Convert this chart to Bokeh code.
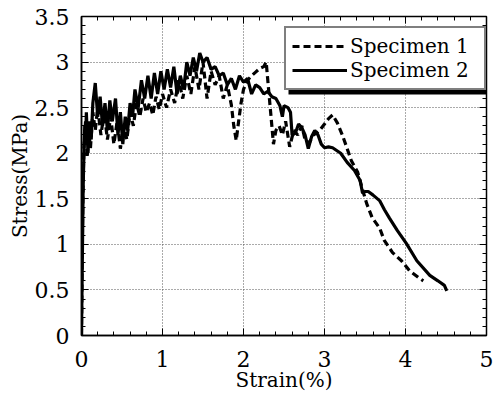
from bokeh.plotting import figure
from bokeh.models import Range1d, LinearAxis, SingleIntervalTicker, Legend, LegendItem, BoxAnnotation
from bokeh.embed import file_html
from bokeh.resources import INLINE

# Specimen 1 (dashed)
s1_strain = [0.00, 0.01, 0.02, 0.03, 0.05, 0.07, 0.09, 0.11, 0.14, 0.17, 0.20, 0.24, 0.28, 0.32, 0.36,
             0.40, 0.44, 0.48, 0.52, 0.56, 0.60, 0.64, 0.68, 0.72, 0.76, 0.80, 0.84, 0.88, 0.92, 0.96,
             1.00, 1.05, 1.10, 1.15, 1.20, 1.25, 1.30, 1.35, 1.40, 1.45, 1.50, 1.55, 1.60, 1.65, 1.70,
             1.75, 1.80, 1.85, 1.88, 1.91, 1.94, 1.97, 2.00, 2.05, 2.10, 2.15, 2.20, 2.25, 2.28, 2.31,
             2.34, 2.37, 2.40, 2.44, 2.48, 2.52, 2.57, 2.62, 2.67, 2.72, 2.76, 2.81, 2.86, 2.90, 2.94,
             3.00, 3.05, 3.10, 3.16, 3.22, 3.28, 3.33, 3.41, 3.47, 3.52, 3.59, 3.68, 3.74, 3.84, 3.95,
             4.05, 4.17, 4.22]
s1_stress = [0.00, 1.00, 1.70, 2.05, 2.35, 1.95, 2.25, 2.05, 2.45, 2.25, 2.50, 2.20, 2.45, 2.15, 2.40,
             2.10, 2.35, 2.05, 2.30, 2.15, 2.45, 2.30, 2.55, 2.40, 2.60, 2.45, 2.55, 2.42, 2.62, 2.48,
             2.65, 2.50, 2.70, 2.55, 2.80, 2.60, 2.85, 2.65, 2.95, 2.70, 3.00, 2.60, 2.90, 2.75, 2.85,
             2.60, 2.75, 2.53, 2.30, 2.14, 2.35, 2.55, 2.70, 2.80, 2.85, 2.89, 2.93, 2.95, 3.00, 2.70,
             2.40, 2.10, 2.25, 2.30, 2.20, 2.35, 2.07, 2.25, 2.20, 2.30, 2.15, 2.11, 2.20, 2.22, 2.25,
             2.32, 2.38, 2.42, 2.33, 2.20, 2.05, 1.92, 1.79, 1.60, 1.45, 1.29, 1.18, 1.04, 0.91, 0.82,
             0.71, 0.63, 0.60]

# Specimen 2 (solid)
s2_strain = [0.00, 0.01, 0.02, 0.03, 0.04, 0.05, 0.06, 0.08, 0.10, 0.12, 0.14, 0.17, 0.20, 0.23, 0.26,
             0.29, 0.32, 0.35, 0.38, 0.42, 0.45, 0.48, 0.51, 0.54, 0.57, 0.60, 0.63, 0.66, 0.70, 0.74,
             0.78, 0.82, 0.86, 0.90, 0.94, 0.98, 1.02, 1.06, 1.10, 1.14, 1.18, 1.22, 1.26, 1.30, 1.34,
             1.38, 1.42, 1.46, 1.50, 1.55, 1.60, 1.65, 1.70, 1.75, 1.80, 1.85, 1.90, 1.95, 2.00, 2.05,
             2.10, 2.15, 2.20, 2.25, 2.30, 2.35, 2.40, 2.45, 2.48, 2.50, 2.55, 2.58, 2.60, 2.64, 2.68,
             2.72, 2.76, 2.80, 2.84, 2.88, 2.92, 2.96, 3.00, 3.05, 3.10, 3.15, 3.20, 3.28, 3.37, 3.44,
             3.47, 3.50, 3.54, 3.60, 3.68, 3.74, 3.80, 3.90, 4.01, 4.14, 4.30, 4.40, 4.48, 4.51]
s2_stress = [0.00, 0.80, 1.60, 2.00, 2.30, 2.10, 2.45, 2.00, 2.35, 2.15, 2.55, 2.77, 2.40, 2.62, 2.30,
             2.55, 2.25, 2.58, 2.35, 2.60, 2.20, 2.45, 2.10, 2.40, 2.25, 2.55, 2.40, 2.70, 2.50, 2.80,
             2.60, 2.85, 2.60, 2.88, 2.65, 2.90, 2.70, 2.92, 2.72, 2.95, 2.65, 2.85, 2.70, 3.00, 2.85,
             3.05, 2.90, 3.10, 3.00, 3.05, 2.92, 2.95, 2.85, 2.88, 2.75, 2.82, 2.70, 2.85, 2.78, 2.82,
             2.65, 2.75, 2.72, 2.65, 2.68, 2.62, 2.60, 2.52, 2.40, 2.52, 2.50, 2.45, 2.20, 2.22, 2.32,
             2.28, 2.20, 2.05, 2.18, 2.25, 2.20, 2.10, 2.06, 2.07, 2.06, 2.03, 2.00, 1.90, 1.81, 1.70,
             1.56, 1.58, 1.58, 1.54, 1.48, 1.38, 1.29, 1.15, 1.01, 0.82, 0.66, 0.60, 0.55, 0.49]

x_ticks = [0, 1, 2, 3, 4, 5]
y_ticks = [0, 0.5, 1, 1.5, 2, 2.5, 3, 3.5]
y_tick_labels = ["0", "0.5", "1", "1.5", "2", "2.5", "3", "3.5"]
series_names = ["Specimen 1", "Specimen 2"]

FONT = "DejaVu Serif"

p = figure(width=493, height=397, output_backend="svg", toolbar_location=None,
           x_range=Range1d(0, 5), y_range=Range1d(0, 3.5),
           min_border_left=81, min_border_right=7, min_border_top=16, min_border_bottom=62,
           x_axis_label="Strain(%)", y_axis_label="Stress(MPa)")
p.background_fill_color = "white"
p.outline_line_color = "black"
p.outline_line_width = 1.5

p.xaxis.ticker = SingleIntervalTicker(interval=1, num_minor_ticks=5)
p.yaxis.ticker = SingleIntervalTicker(interval=0.5, num_minor_ticks=5)
p.yaxis.major_label_overrides = {v: l for v, l in zip(y_ticks, y_tick_labels)}

for ax in [p.xaxis[0], p.yaxis[0]]:
    ax.major_tick_in = 7
    ax.major_tick_out = 0
    ax.minor_tick_in = 4
    ax.minor_tick_out = 0
    ax.axis_line_color = "black"
    ax.axis_line_width = 1.5
    ax.major_tick_line_color = "black"
    ax.minor_tick_line_color = "black"
    ax.major_label_text_font = FONT
    ax.major_label_text_font_size = "22px"
    ax.major_label_text_color = "black"
    ax.axis_label_text_font = FONT
    ax.axis_label_text_font_size = "20px"
    ax.axis_label_text_font_style = "normal"
    ax.axis_label_text_color = "black"
p.xaxis.major_label_standoff = 15
p.xaxis.axis_label_standoff = -2
p.yaxis.major_label_standoff = 12
p.yaxis.axis_label_standoff = 0

blank_x = {v: "" for v in x_ticks}
blank_y = {v: "" for v in y_ticks}
top_ax = LinearAxis(ticker=SingleIntervalTicker(interval=1, num_minor_ticks=5),
                    major_label_overrides=blank_x, major_label_text_font_size="1px",
                    major_label_standoff=0, major_tick_in=7, major_tick_out=0,
                    minor_tick_in=4, minor_tick_out=0, axis_line_color="black")
right_ax = LinearAxis(ticker=SingleIntervalTicker(interval=0.5, num_minor_ticks=5),
                      major_label_overrides=blank_y, major_label_text_font_size="1px",
                      major_label_standoff=0, major_tick_in=7, major_tick_out=0,
                      minor_tick_in=4, minor_tick_out=0, axis_line_color="black")
p.add_layout(top_ax, "above")
p.add_layout(right_ax, "right")

p.xgrid.ticker = SingleIntervalTicker(interval=1)
p.ygrid.ticker = SingleIntervalTicker(interval=0.5)
for g in [p.xgrid[0], p.ygrid[0]]:
    g.grid_line_color = "#555555"
    g.grid_line_dash = "1 2"
    g.grid_line_width = 1

r1 = p.line(s1_strain, s1_stress, line_color="black", line_width=3.2, line_dash="7 4")
r2 = p.line(s2_strain, s2_stress, line_color="black", line_width=3.2)

# legend geometry (screen px, relative to frame bottom-left)
LEG_X, LEG_Y = 203, 245
PAD, GW, GH, LW, STAND = 6, 55, 24, 128, 3
LEG_W = PAD + GW + STAND + LW + PAD
LEG_H = PAD + 2 * GH + PAD
SHADOW = 4

shadow = BoxAnnotation(left=LEG_X + SHADOW, right=LEG_X + LEG_W + SHADOW,
                       bottom=LEG_Y - SHADOW, top=LEG_Y + LEG_H - SHADOW,
                       left_units="screen", right_units="screen",
                       bottom_units="screen", top_units="screen",
                       fill_color="black", fill_alpha=1, line_color=None)
p.add_layout(shadow)

legend = Legend(items=[LegendItem(label=series_names[0], renderers=[r1]),
                       LegendItem(label=series_names[1], renderers=[r2])],
                location=(LEG_X, LEG_Y))
legend.border_line_color = "black"
legend.border_line_width = 2.5
legend.background_fill_color = "white"
legend.background_fill_alpha = 1
legend.label_text_font = FONT
legend.label_text_font_size = "20px"
legend.label_text_color = "black"
legend.glyph_width = GW
legend.glyph_height = GH
legend.label_height = GH
legend.label_width = LW
legend.label_standoff = STAND
legend.padding = PAD
legend.spacing = 0
legend.margin = 0
p.add_layout(legend, "center")

open("out.html", "w").write(file_html(p, INLINE))
